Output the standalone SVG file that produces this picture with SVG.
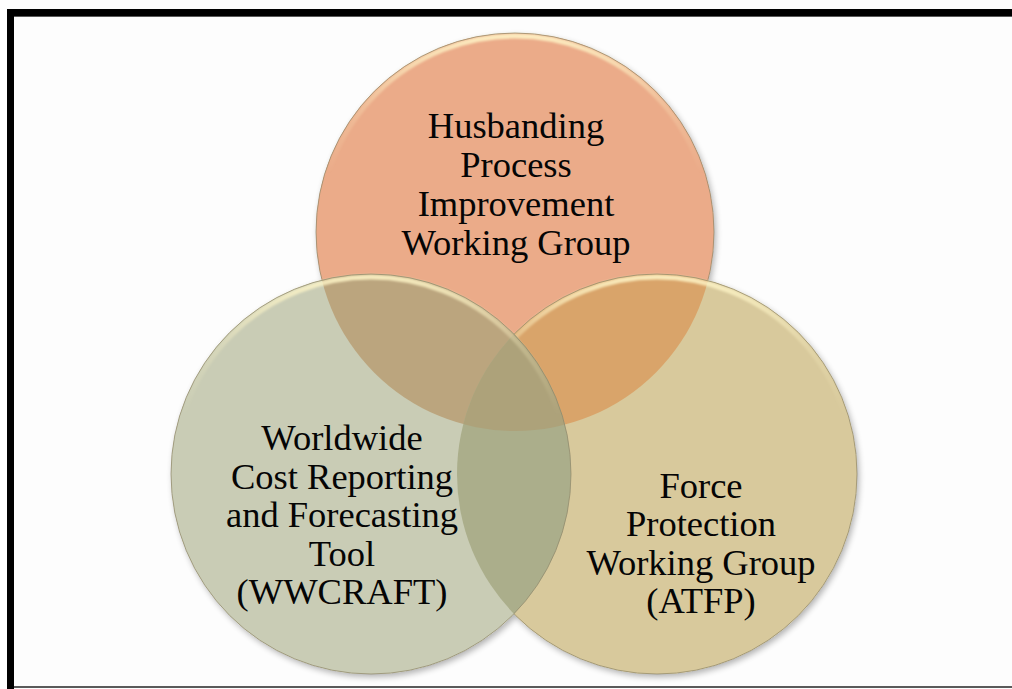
<svg xmlns="http://www.w3.org/2000/svg" width="1012" height="689" viewBox="0 0 1012 689">
  <style>
    .label { font-family: "Liberation Serif", "Times New Roman", serif; font-size: 36.5px; fill: #050505; text-anchor: middle; }
    .edge { fill: none; stroke: #8f8666; stroke-width: 1; stroke-opacity: 0.7; }
    .rim { fill: none; stroke: url(#rimGrad); stroke-width: 5; filter: url(#soft); }
  </style>
  <defs>
    <linearGradient id="rimGrad" x1="0" y1="0" x2="0" y2="1">
      <stop offset="0" stop-color="#fff6c8" stop-opacity="0.85"/>
      <stop offset="0.18" stop-color="#fff6c8" stop-opacity="0.25"/>
      <stop offset="0.35" stop-color="#fff6c8" stop-opacity="0"/>
    </linearGradient>
    <filter id="soft" x="-5%" y="-5%" width="110%" height="110%">
      <feGaussianBlur stdDeviation="1.2"/>
    </filter>
    <filter id="shadow" x="-10%" y="-10%" width="120%" height="120%">
      <feGaussianBlur in="SourceAlpha" stdDeviation="3"/>
      <feOffset dx="2" dy="3"/>
      <feComponentTransfer><feFuncA type="linear" slope="0.3"/></feComponentTransfer>
      <feMerge><feMergeNode/><feMergeNode in="SourceGraphic"/></feMerge>
    </filter>
    <clipPath id="clipTop"><circle cx="515" cy="232" r="199"/></clipPath>
    <clipPath id="clipRight"><circle cx="657" cy="474" r="200"/></clipPath>
  </defs>

  <!-- page background and frame -->
  <rect x="0" y="0" width="1012" height="689" fill="#fdfdfd"/>
  <rect x="7" y="9" width="1005" height="7" fill="#000"/>
  <rect x="14" y="16" width="998" height="1" fill="#5a5a5a"/>
  <rect x="7" y="9" width="7" height="680" fill="#000"/>
  <rect x="14" y="686" width="998" height="2" fill="#5a5a5a"/>

  <!-- shadows under the three discs -->
  <g filter="url(#shadow)">
    <circle cx="515" cy="232" r="199" fill="#ebab89"/>
    <circle cx="657" cy="474" r="200" fill="#d8c99c"/>
    <circle cx="371" cy="474" r="200" fill="#c9ccb5"/>
  </g>

  <g id="node-husbanding">
    <circle cx="515" cy="232" r="199" fill="#ebab89"/>
    <circle class="rim" cx="515" cy="232" r="196"/>
    <circle class="edge" cx="515" cy="232" r="199"/>
    <text class="label" x="516" y="138">Husbanding</text>
    <text class="label" x="516" y="177">Process</text>
    <text class="label" x="516" y="216">Improvement</text>
    <text class="label" x="516" y="255">Working Group</text>
  </g>

  <g id="node-force-protection">
    <circle cx="657" cy="474" r="200" fill="#d8c99c"/>
    <!-- overlap with the Husbanding disc -->
    <circle cx="657" cy="474" r="200" fill="#d9a46a" clip-path="url(#clipTop)"/>
    <circle class="rim" cx="657" cy="474" r="197"/>
    <circle class="edge" cx="657" cy="474" r="200"/>
    <text class="label" x="701" y="498">Force</text>
    <text class="label" x="701" y="536">Protection</text>
    <text class="label" x="701" y="575">Working Group</text>
    <text class="label" x="701" y="613">(ATFP)</text>
  </g>

  <g id="node-wwcraft">
    <circle cx="371" cy="474" r="200" fill="#c9ccb5"/>
    <!-- overlaps with the other two discs -->
    <circle cx="371" cy="474" r="200" fill="#bba57e" clip-path="url(#clipTop)"/>
    <circle cx="371" cy="474" r="200" fill="#abae8b" clip-path="url(#clipRight)"/>
    <g clip-path="url(#clipTop)">
      <circle cx="371" cy="474" r="200" fill="#ada27a" clip-path="url(#clipRight)"/>
    </g>
    <circle class="rim" cx="371" cy="474" r="197"/>
    <circle class="edge" cx="371" cy="474" r="200"/>
    <text class="label" x="342" y="450">Worldwide</text>
    <text class="label" x="342" y="489">Cost Reporting</text>
    <text class="label" x="342" y="527">and Forecasting</text>
    <text class="label" x="342" y="566">Tool</text>
    <text class="label" x="342" y="604">(WWCRAFT)</text>
  </g>
</svg>
